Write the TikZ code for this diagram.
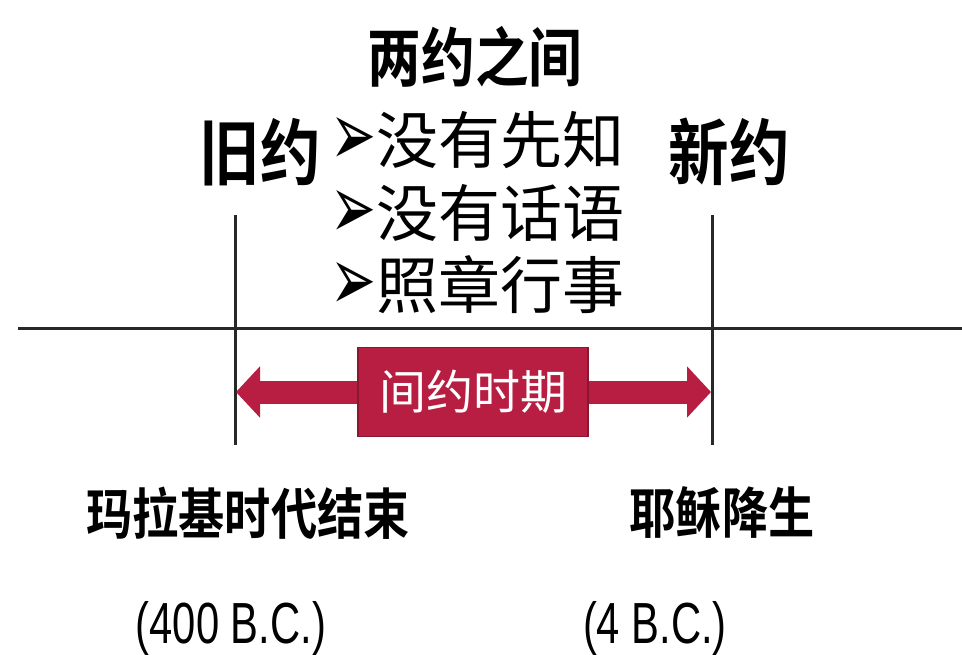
\documentclass[tikz,border=0pt]{standalone}
\usepackage{fontspec}
\usepackage{tikz}
\usetikzlibrary{arrows.meta}

\newfontfamily\cjk{Noto Sans CJK SC}
\newfontfamily\cjkhead[FakeStretch=0.84]{Noto Sans CJK SC Bold}
\newfontfamily\markfont{DejaVu Sans}
\newfontfamily\datefont[FakeStretch=0.72]{Liberation Sans}
\newcommand\itemmark{\raisebox{-2pt}{\resizebox{46pt}{48pt}{\markfont ➢}}}
\definecolor{period}{RGB}{183,30,66}
\definecolor{periodrim}{RGB}{138,22,48}
\definecolor{tick}{RGB}{40,40,40}

\begin{document}
\begin{tikzpicture}[x=1pt,y=-1pt]
      \useasboundingbox (0,0) rectangle (962,654);

      \coordinate (lineL) at (18,328);
      \coordinate (lineR) at (962,328);
      \coordinate (oldtop) at (235,215);
      \coordinate (oldbot) at (235,445);
      \coordinate (newtop) at (712,215);
      \coordinate (newbot) at (712,445);
      \coordinate (arrL) at (236,392);
      \coordinate (arrR) at (711,392);

      \begin{scope}[every node/.style={inner sep=0pt}]
        \node[font=\cjkhead\fontsize{64}{66}\selectfont] (title) at (475,57) {两约之间};
        \node[font=\cjkhead\fontsize{72}{74}\selectfont] (old) at (260,152) {旧约};
        \node[font=\cjkhead\fontsize{72}{74}\selectfont] (new) at (729,152) {新约};
        \node[font=\cjkhead\fontsize{55}{57}\selectfont] (malachi) at (248,513) {玛拉基时代结束};
        \node[font=\cjkhead\fontsize{55}{57}\selectfont] (jesus) at (722,513) {耶稣降生};
        \node[font=\datefont\fontsize{58}{60}\selectfont] (olddate) at (231,628) {(400 B.C.)};
        \node[font=\datefont\fontsize{58}{60}\selectfont] (newdate) at (655,628) {(4 B.C.)};
      \end{scope}

      \begin{scope}[every node/.style={inner sep=0pt,anchor=west,font=\cjk\fontsize{62}{64}\selectfont}]
        \node (nopro) at (330,140) {\itemmark 没有先知};
        \node (noword) at (330,213) {\itemmark 没有话语};
        \node (rules) at (330,285) {\itemmark 照章行事};
      \end{scope}

      \begin{scope}[line width=3pt, draw=tick]
        \path (lineL) edge (lineR);
        \path (oldtop) edge (oldbot);
        \path (newtop) edge (newbot);
      \end{scope}

      \path[draw=period, line width=23pt,
        {Triangle[length=24pt,width=50pt]}-{Triangle[length=24pt,width=50pt]}] (arrL) -- (arrR);
      \node[fill=period, draw=periodrim, line width=1.5pt, minimum width=230pt, minimum height=89pt,
        inner sep=0pt, text=white, font=\cjk\fontsize{47}{49}\selectfont] (between) at (473,392) {间约时期};
    \end{tikzpicture}
\end{document}
